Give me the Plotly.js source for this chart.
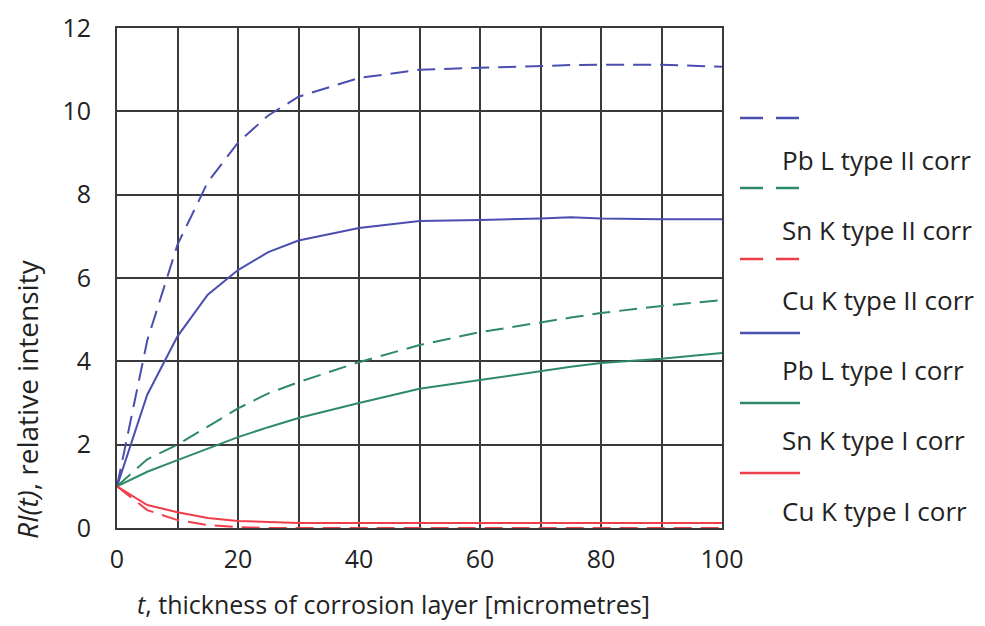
<!DOCTYPE html>
<html>
<head>
<meta charset="utf-8">
<script src="https://cdn.plot.ly/plotly-3.0.1.min.js"></script>
<style>
  html, body { margin: 0; padding: 0; background: #ffffff; }
  #chart { width: 985px; height: 626px; }
</style>
</head>
<body>
<div id="chart"></div>
<script>
// Corrosion layer thickness, micrometres
const thickness = [0, 5, 10, 15, 20, 25, 30, 40, 50, 60, 70, 75, 80, 90, 100];

// Relative intensity RI(t) per line and correction type
const pbL_typeII = [1, 4.5, 6.8, 8.3, 9.25, 9.9, 10.35, 10.8, 11.0, 11.05, 11.1, 11.11, 11.12, 11.12, 11.07];
const snK_typeII = [1, 1.65, 2.0, 2.43, 2.87, 3.23, 3.5, 3.98, 4.39, 4.7, 4.94, 5.05, 5.16, 5.33, 5.47];
const cuK_typeII = [1, 0.43, 0.19, 0.07, 0.02, 0, 0, 0, 0, 0, 0, 0, 0, 0, 0];
const pbL_typeI  = [1, 3.2, 4.6, 5.6, 6.19, 6.62, 6.9, 7.2, 7.37, 7.39, 7.43, 7.46, 7.43, 7.41, 7.41];
const snK_typeI  = [1, 1.35, 1.63, 1.9, 2.18, 2.42, 2.64, 3.0, 3.34, 3.55, 3.77, 3.87, 3.96, 4.06, 4.2];
const cuK_typeI  = [1, 0.55, 0.38, 0.24, 0.17, 0.15, 0.12, 0.12, 0.12, 0.12, 0.12, 0.12, 0.12, 0.12, 0.12];

const seriesNames = [
  'Pb L type II corr', 'Sn K type II corr', 'Cu K type II corr',
  'Pb L type I corr', 'Sn K type I corr', 'Cu K type I corr'
];
const xTicks = [0, 20, 40, 60, 80, 100];
const yTicks = [0, 2, 4, 6, 8, 10, 12];

const BLUE = '#4a4eae';
const GREEN = '#2f8a68';
const RED = '#ef3d4a';
const DASH = '18px,9px';
const FONT = 'Open Sans, sans-serif';
const TEXT = '#222222';

const seriesValues = [pbL_typeII, snK_typeII, cuK_typeII, pbL_typeI, snK_typeI, cuK_typeI];
const seriesColors = [BLUE, GREEN, RED, BLUE, GREEN, RED];
const seriesDash = [DASH, DASH, DASH, 'solid', 'solid', 'solid'];

const traces = seriesValues.map((vals, i) => ({
  x: thickness,
  y: vals,
  name: seriesNames[i],
  type: 'scatter',
  mode: 'lines',
  line: { color: seriesColors[i], width: 2, dash: seriesDash[i] },
  showlegend: false
}));

// Plot area in pixels (used to place the hand-built key)
const L = 117, R = 722, T = 28, B = 528;
const px = x => (x - L) / (R - L);
const py = y => (B - y) / (B - T);

// Key: sample line, then its label on the row beneath
const keySampleY = [118, 188, 259, 333, 403, 473];
const keyLabelY  = [160, 230, 300, 370, 440, 511];
const shapes = [];
const annotations = [];
seriesNames.forEach((name, i) => {
  shapes.push({
    type: 'line', xref: 'paper', yref: 'paper',
    x0: px(740), x1: px(800), y0: py(keySampleY[i]), y1: py(keySampleY[i]),
    line: { color: seriesColors[i], width: 2.5, dash: i < 3 ? '23px,13px' : 'solid' }
  });
  annotations.push({
    xref: 'paper', yref: 'paper', x: px(780), y: py(keyLabelY[i]),
    xanchor: 'left', yanchor: 'middle', showarrow: false,
    text: name, font: { family: FONT, size: 26, color: TEXT }
  });
});

// Axis titles
annotations.push({
  xref: 'paper', yref: 'paper', x: px(135), y: py(604),
  xanchor: 'left', yanchor: 'middle', showarrow: false,
  text: '<i>t</i>, thickness of corrosion layer [micrometres]',
  font: { family: FONT, size: 25, color: TEXT }
});
annotations.push({
  xref: 'paper', yref: 'paper', x: px(27), y: py(399),
  xanchor: 'center', yanchor: 'middle', showarrow: false, textangle: -90,
  text: '<i>RI(t)</i>, relative intensity',
  font: { family: FONT, size: 28, color: TEXT }
});

const layout = {
  width: 985, height: 626,
  margin: { l: L, r: 985 - R, t: T, b: 626 - B },
  paper_bgcolor: '#ffffff', plot_bgcolor: '#ffffff',
  font: { family: FONT, size: 25, color: TEXT },
  xaxis: {
    range: [0, 100], tickvals: xTicks, ticktext: xTicks.map(String),
    showgrid: false, zeroline: false,
    showline: true, mirror: true, linecolor: '#3a3a3a', linewidth: 2,
    ticks: '', ticklabelstandoff: 8,
    tickfont: { family: FONT, size: 25, color: TEXT }
  },
  yaxis: {
    range: [0, 12], tickvals: yTicks, ticktext: yTicks.map(String),
    showgrid: true, gridcolor: '#3a3a3a', gridwidth: 2, zeroline: false,
    showline: true, mirror: true, linecolor: '#3a3a3a', linewidth: 2,
    ticks: '', ticklabelstandoff: 19,
    tickfont: { family: FONT, size: 25, color: TEXT }
  },
  // vertical grid every 10 micrometres on a hidden overlay axis
  xaxis2: {
    overlaying: 'x', range: [0, 100], dtick: 10, tick0: 0,
    showgrid: true, gridcolor: '#3a3a3a', gridwidth: 2,
    showticklabels: false, zeroline: false, ticks: ''
  },
  shapes: shapes,
  annotations: annotations
};

// placeholder trace so the overlay grid axis is drawn
traces.unshift({ x: [0], y: [0], xaxis: 'x2', mode: 'none', showlegend: false, hoverinfo: 'skip' });

Plotly.newPlot('chart', traces, layout, { displayModeBar: false, staticPlot: true });
</script>
</body>
</html>
